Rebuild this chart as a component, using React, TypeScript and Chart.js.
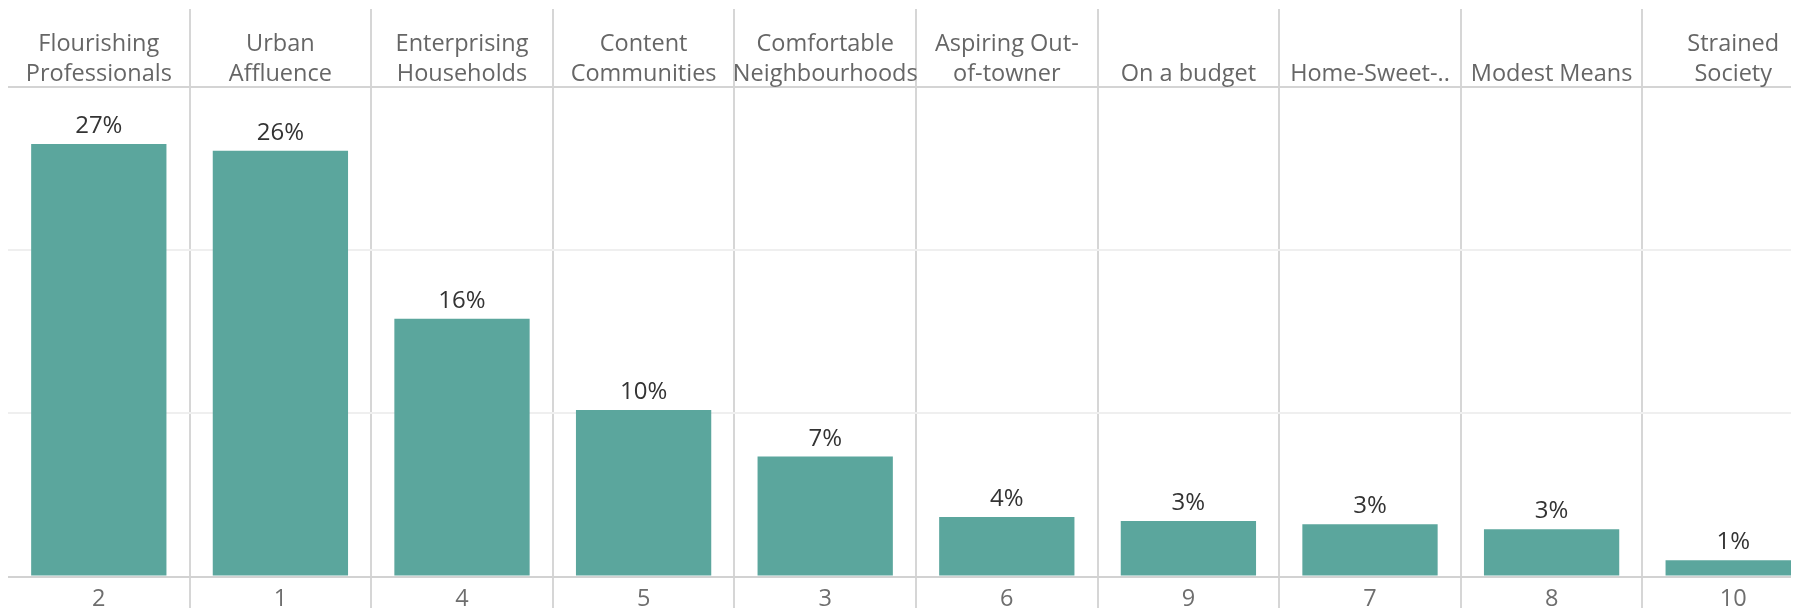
import React, { useEffect, useRef } from 'react';
import { Chart, registerables } from 'chart.js';

Chart.register(...registerables);

const segmentNames: (string | string[])[] = [
  ['Flourishing', 'Professionals'],
  ['Urban', 'Affluence'],
  ['Enterprising', 'Households'],
  ['Content', 'Communities'],
  ['Comfortable', 'Neighbourhoods'],
  ['Aspiring Out-', 'of-towner'],
  'On a budget',
  'Home-Sweet-..',
  'Modest Means',
  ['Strained', 'Society'],
];

const segmentCodes: string[] = ['2', '1', '4', '5', '3', '6', '9', '7', '8', '10'];

const sharePercent: number[] = [26.5, 26.1, 15.8, 10.2, 7.35, 3.65, 3.4, 3.2, 2.9, 1.0];

const yMin = 0;
const yMax = 30;
const yStep = 10;

const FONT = '"Open Sans", "DejaVu Sans", sans-serif';

const valueLabels = {
  id: 'valueLabels',
  afterDatasetsDraw(chart: any) {
    const { ctx } = chart;
    const meta = chart.getDatasetMeta(0);
    const data = chart.data.datasets[0].data as number[];
    ctx.save();
    ctx.font = `24px ${FONT}`;
    ctx.fillStyle = '#333333';
    ctx.textAlign = 'center';
    ctx.textBaseline = 'alphabetic';
    meta.data.forEach((bar: any, i: number) => {
      ctx.fillText(`${Math.round(data[i])}%`, bar.x, bar.y - 11);
    });
    ctx.restore();
  },
};

const sepColor = (ctx: any) => (ctx.index === 0 ? 'rgba(0,0,0,0)' : '#d6d6d6');

export default function App() {
  const canvasRef = useRef<HTMLCanvasElement | null>(null);

  useEffect(() => {
    document.documentElement.style.overflow = 'hidden';
    document.body.style.overflow = 'hidden';
    const canvas = canvasRef.current;
    if (!canvas) return;
    const chart = new Chart(canvas, {
      type: 'bar',
      data: {
        labels: segmentNames as any,
        datasets: [
          {
            data: sharePercent,
            backgroundColor: '#5ba69d',
            borderWidth: 0,
            categoryPercentage: 1,
            barPercentage: 0.745,
            xAxisID: 'x',
            yAxisID: 'y',
          },
        ],
      },
      options: {
        responsive: false,
        animation: false,
        maintainAspectRatio: false,
        layout: { padding: 0 },
        plugins: {
          legend: { display: false },
          tooltip: { enabled: false },
          title: { display: false },
        },
        scales: {
          x: {
            type: 'category',
            position: 'top',
            offset: true,
            grid: {
              offset: true,
              display: true,
              drawOnChartArea: true,
              drawTicks: true,
              tickLength: 78,
              color: sepColor,
              lineWidth: 2,
            },
            border: { display: true, color: '#d4d4d4', width: 2 },
            ticks: {
              autoSkip: false,
              maxRotation: 0,
              minRotation: 0,
              padding: -80,
              color: '#666666',
              font: { family: FONT, size: 23.5, lineHeight: 1.28 },
            },
            afterFit: (scale: any) => {
              scale.height = 79;
            },
          },
          xb: {
            type: 'category',
            position: 'bottom',
            labels: segmentCodes,
            offset: true,
            grid: {
              offset: true,
              display: true,
              drawOnChartArea: false,
              drawTicks: true,
              tickLength: 40,
              color: sepColor,
              lineWidth: 2,
            },
            border: { display: true, color: '#d2d2d2', width: 2 },
            ticks: {
              autoSkip: false,
              maxRotation: 0,
              minRotation: 0,
              padding: -31,
              color: '#6e6e6e',
              font: { family: FONT, size: 23.5, lineHeight: 1.2 },
            },
            afterFit: (scale: any) => {
              scale.height = 39.5;
            },
          },
          y: {
            type: 'linear',
            min: yMin,
            max: yMax,
            display: true,
            ticks: { display: false, stepSize: yStep },
            grid: {
              drawTicks: false,
              lineWidth: 2,
              color: (ctx: any) =>
                ctx.tick && ctx.tick.value > yMin && ctx.tick.value < yMax ? '#efefef' : 'rgba(0,0,0,0)',
            },
            border: { display: false },
            afterFit: (scale: any) => {
              scale.width = 0;
            },
          },
        },
      },
      plugins: [valueLabels],
    });
    return () => {
      chart.destroy();
    };
  }, []);

  return (
    <div style={{ width: 1791, height: 608, overflow: 'hidden', marginBottom: -8 }}>
      <canvas
        ref={canvasRef}
        width={1816}
        height={608}
        style={{ display: 'block', width: 1816, height: 608 }}
      />
    </div>
  );
}
